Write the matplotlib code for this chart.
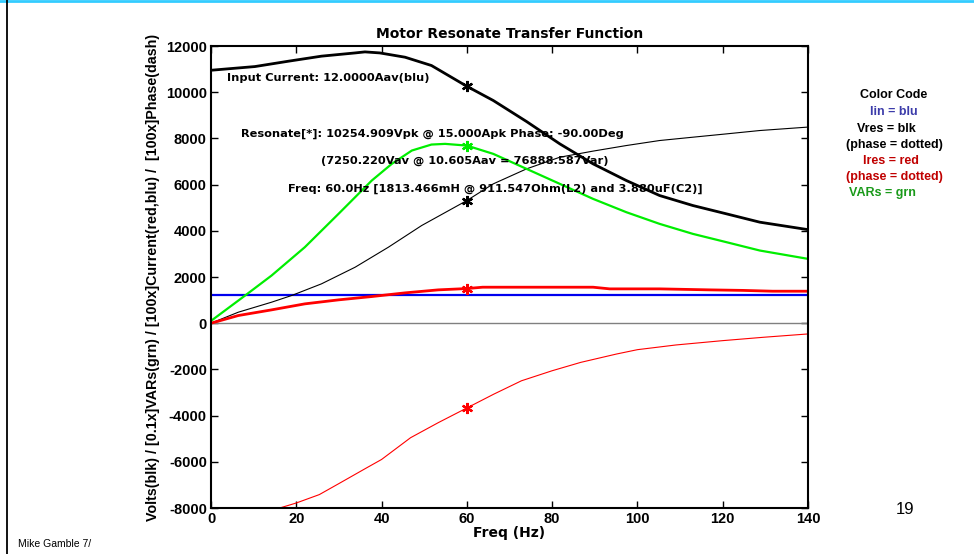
import numpy as np
import matplotlib
matplotlib.use("Agg")
from matplotlib import pyplot as plt

plt.rcParams['font.family'] = ['Liberation Sans', 'DejaVu Sans']
plt.rcParams['axes.unicode_minus'] = False

### CURVE DATA (freq in Hz) ###
f_vres = [0, 10.3, 18.1, 25.9, 33.8, 36.1, 39.6, 45.5, 51.7, 60, 66.2, 74.0,
          81.8, 89.6, 97.4, 105.2, 113.0, 120.9, 128.7, 140]
vres = [10950, 11110, 11340, 11560, 11700, 11745, 11700, 11515, 11155, 10255,
        9640, 8730, 7763, 6898, 6176, 5527, 5094, 4733, 4373, 4050]

f_vph = [0, 6.4, 14.2, 18.9, 25.9, 33.8, 41.6, 49.4, 60, 66.2, 74.0, 81.8,
         89.6, 97.4, 105.2, 113, 120.9, 128.7, 140]
vph = [0, 476, 909, 1198, 1703, 2424, 3290, 4228, 5310, 6032, 6681, 7186,
       7450, 7691, 7908, 8052, 8196, 8341, 8490]

f_vars = [0, 8.0, 14.2, 22.0, 29.9, 37.7, 42.4, 47.1, 51.7, 54.9, 60, 66.2,
          74.0, 81.8, 89.6, 97.4, 105.2, 113, 120.9, 128.7, 140]
vars_ = [100, 1198, 2063, 3290, 4733, 6176, 6898, 7475, 7734, 7763, 7689,
         7330, 6681, 6032, 5382, 4805, 4300, 3867, 3506, 3146, 2785]

f_ires = [0, 6.4, 14.2, 22.0, 29.9, 37.7, 45.5, 53.3, 60, 63.7, 89.6, 93.5,
          105.2, 116.9, 124.7, 131.7, 140]
ires = [0, 332, 577, 837, 1010, 1154, 1313, 1443, 1500, 1558, 1558, 1486,
        1486, 1443, 1420, 1385, 1385]

f_iph = [0, 8, 16.1, 20, 25.4, 30.0, 36.5, 40, 46.8, 53.3, 60, 66.3, 72.8,
         80, 86.7, 95.1, 100, 109, 120, 129.5, 140]
iph = [-10500, -9200, -8000, -7783, -7420, -6942, -6261, -5899, -4957, -4305,
       -3670, -3073, -2493, -2058, -1696, -1334, -1146, -943, -755, -610, -465]

iin = 1200          # 12.0000 Aav x100
f_res = 60          # resonance marker
res_marks = [(10255, 'black'), (5310, 'black'), (7689, '#00ee00'),
             (1500, 'red'), (-3670, 'red')]

xticks = np.arange(0, 141, 20)
yticks = np.arange(-8000, 12001, 2000)

### FIGURE ###
fig = plt.figure(figsize=(9.74, 5.54), dpi=100)
ax = fig.add_axes([211/974, 1-508/554, 597/974, 462/554])

ax.axhline(0, color='#808080', lw=1.0)
ax.plot(f_iph, iph, color='red', lw=0.8)
ax.plot([0, 140], [iin, iin], color='#0000ee', lw=1.6)
ax.plot(f_vph, vph, color='black', lw=0.8)
ax.plot(f_vars, vars_, color='#00ee00', lw=1.6)
ax.plot(f_ires, ires, color='red', lw=2.0)
ax.plot(f_vres, vres, color='black', lw=2.0)
for yv, c in res_marks:
    ax.plot(f_res, yv, marker=(6, 2, 0), ms=8, mew=1.6, color=c)

ax.set_xlim(0, 140)
ax.set_ylim(-8000, 12000)
ax.set_xticks(xticks)
ax.set_yticks(yticks)
ax.tick_params(direction='in', length=5, width=1, top=True, right=True,
               labelsize=10.5, pad=3)
for lab in ax.get_xticklabels() + ax.get_yticklabels():
    lab.set_fontweight('bold')
for s in ax.spines.values():
    s.set_linewidth(1.5)

wide = ['DejaVu Sans']
ax.set_title('Motor Resonate Transfer Function', fontsize=10,
             fontweight='bold', family=wide, pad=6)
ax.set_xlabel('Freq (Hz)', fontsize=10, fontweight='bold', family=wide,
              labelpad=0)
ax.set_ylabel('Volts(blk) / [0.1x]VARs(grn) / [100x]Current(red,blu) /  [100x]Phase(dash)',
              fontsize=10.3, fontweight='bold', labelpad=4)

### ANNOTATIONS ###
tk = dict(fontsize=8.2, fontweight='bold', family=wide, va='center', ha='left')
ax.text(3.7, 10620, 'Input Current: 12.0000Aav(blu)', **tk)
ax.text(7.0, 8190, 'Resonate[*]: 10254.909Vpk @ 15.000Apk Phase: -90.00Deg', **tk)
ax.text(25.8, 7020, '(7250.220Vav @ 10.605Aav = 76888.587Var)', **tk)
ax.text(18.1, 5810, 'Freq: 60.0Hz [1813.466mH @ 911.547Ohm(L2) and 3.880uF(C2)]', **tk)

### COLOR CODE KEY ###
key = [('Color Code', 'black', 894, 95),
       ('Iin = blu', '#3c3caa', 894, 112),
       ('Vres = blk', 'black', 886, 129),
       ('(phase = dotted)', 'black', 894, 145),
       ('Ires = red', '#c00000', 891, 161),
       ('(phase = dotted)', '#c00000', 894, 177),
       ('VARs = grn', '#1a9a1a', 882, 193)]
for txt, c, px, py in key:
    fig.text(px/974, 1-py/554, txt, color=c, fontsize=9, fontweight='bold',
             ha='center', va='center')

### SLIDE DECORATION ###
fig.text(905/974, 1-510/554, '19', fontsize=12, ha='center', va='center')
fig.text(18/974, 1-544/554, 'Mike Gamble 7/', fontsize=7.5, ha='left', va='center')
fig.add_artist(plt.Line2D([0, 1], [1-0.5/554, 1-0.5/554], color='#33ccff', lw=2))
fig.add_artist(plt.Line2D([7/974, 7/974], [0, 1], color='black', lw=1.3))

fig.savefig('out.png', dpi=100)
